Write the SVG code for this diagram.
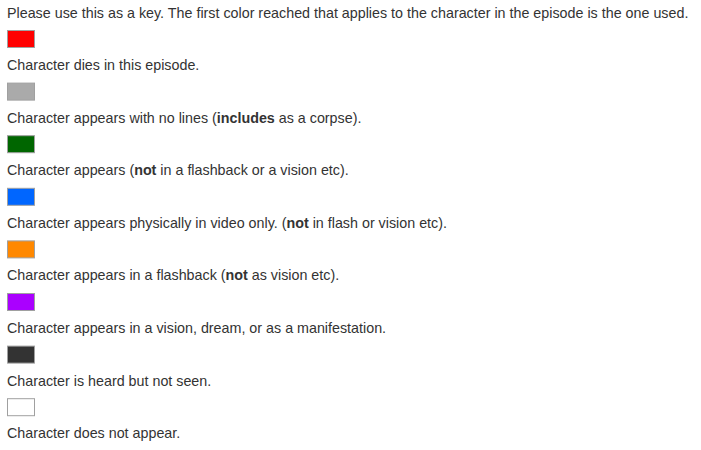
<svg xmlns="http://www.w3.org/2000/svg" width="701" height="450" viewBox="0 0 701 450">
<style>
text{font-family:"Liberation Sans",Arial,sans-serif;font-size:14.3px;fill:#333}
.b{font-weight:bold}
.sw{stroke:#a0a0a0;stroke-width:1}
</style>
<rect width="701" height="450" fill="#fff"/>
<text x="7" y="17.5">Please use this as a key. The first color reached that applies to the character in the episode is the one used.</text>
<g id="red"><rect class="sw" x="7.5" y="30.5" width="27" height="17" fill="#ff0000"/><text x="7" y="70">Character dies in this episode.</text></g>
<g id="gray"><rect class="sw" x="7.5" y="83.1" width="27" height="17" fill="#aaaaaa"/><text x="7" y="122.6">Character appears with no lines (<tspan class="b">includes</tspan> as a corpse).</text></g>
<g id="green"><rect class="sw" x="7.5" y="135.7" width="27" height="17" fill="#006600"/><text x="7" y="175.2">Character appears (<tspan class="b">not</tspan> in a flashback or a vision etc).</text></g>
<g id="blue"><rect class="sw" x="7.5" y="188.3" width="27" height="17" fill="#0066ff"/><text x="7" y="227.8">Character appears physically in video only. (<tspan class="b">not</tspan> in flash or vision etc).</text></g>
<g id="orange"><rect class="sw" x="7.5" y="240.9" width="27" height="17" fill="#ff8800"/><text x="7" y="280.4">Character appears in a flashback (<tspan class="b">not</tspan> as vision etc).</text></g>
<g id="purple"><rect class="sw" x="7.5" y="293.5" width="27" height="17" fill="#aa00ff"/><text x="7" y="333">Character appears in a vision, dream, or as a manifestation.</text></g>
<g id="dark"><rect class="sw" x="7.5" y="346.1" width="27" height="17" fill="#333333"/><text x="7" y="385.6">Character is heard but not seen.</text></g>
<g id="white"><rect class="sw" x="7.5" y="398.7" width="27" height="17" fill="#ffffff"/><text x="7" y="438.2">Character does not appear.</text></g>
</svg>
